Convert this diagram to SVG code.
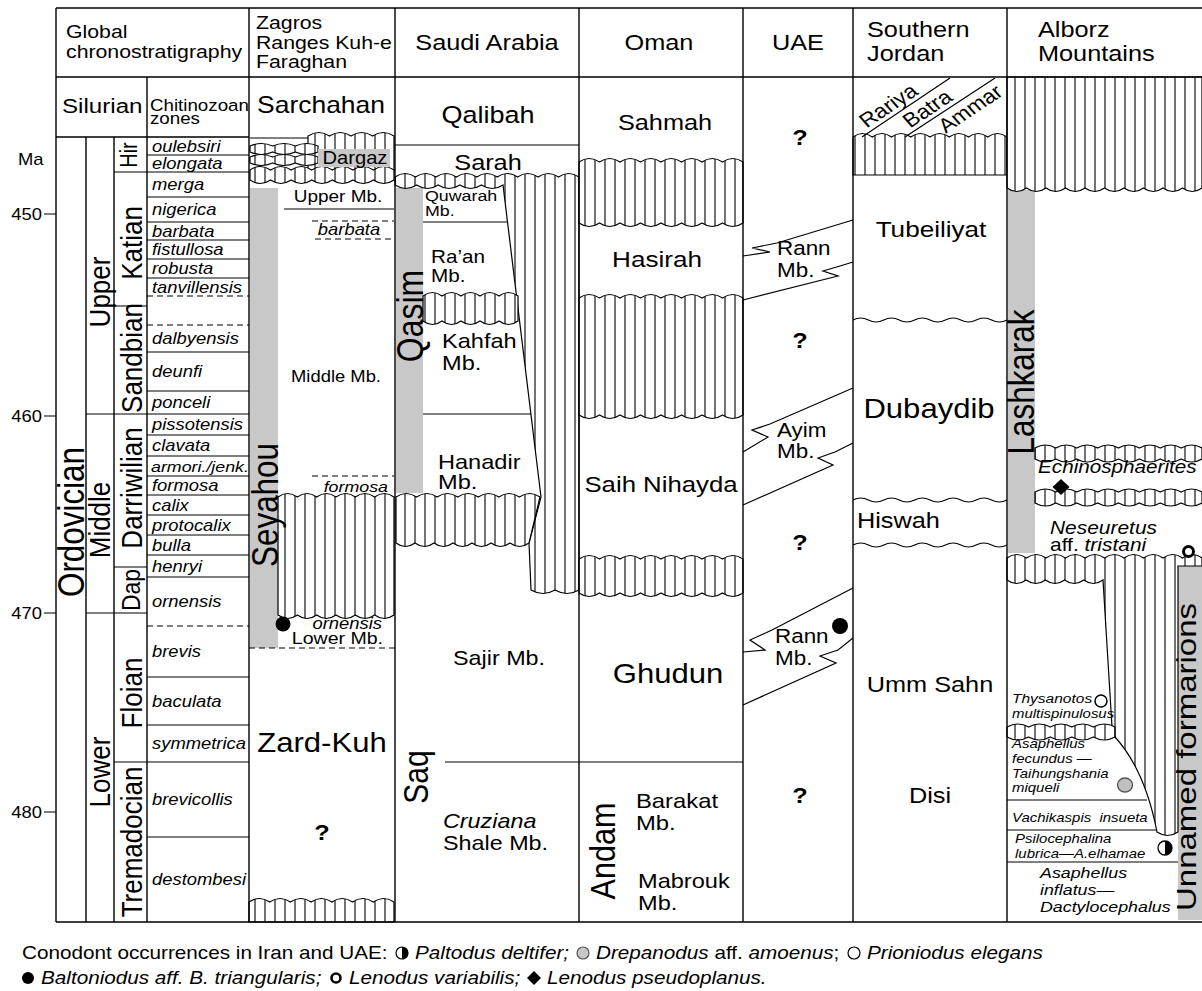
<svg xmlns="http://www.w3.org/2000/svg" width="1202" height="991" viewBox="0 0 1202 991">
<defs>
<pattern id="hatch" patternUnits="userSpaceOnUse" width="10" height="10"><rect width="10" height="10" fill="#fff"/><path d="M5,0V10" stroke="#000" stroke-width="1.1"/></pattern>
</defs>
<style>
.f{fill:none;stroke:#000;stroke-width:1.4}
.l{stroke:#000;stroke-width:1.2;fill:none}
.d{stroke:#000;stroke-width:1.2;stroke-dasharray:6 4;fill:none}
.h{fill:url(#hatch);stroke:#000;stroke-width:1.2}
.g{fill:#c8c8c8}
text{font-family:"Liberation Sans",Arial,Helvetica,sans-serif;fill:#000}
.i{font-style:italic}
.m{text-anchor:middle}
.e{text-anchor:end}
.b{font-weight:bold}
</style>
<rect width="1202" height="991" fill="#fff"/>

<g id="gray-bars">
<rect class="g" x="250" y="188" width="28" height="460"/>
<rect class="g" x="396" y="188" width="27" height="305"/>
<rect class="g" x="1008" y="190" width="27" height="363"/>
<rect class="g" x="1178" y="565" width="24" height="355"/>
</g>

<g id="hatched">
<path class="h" d="M308,136 q10.75,-7 21.5,0 q10.75,-7 21.5,0 q10.75,-7 21.5,0 q10.75,-7 21.5,0 L394,172 L308,172 Z"/>
<path class="h" d="M250,146 q11.33,-5 22.67,0 q11.33,-5 22.67,0 q11.33,-5 22.67,0 L318,152 q-11.33,5 -22.67,0 q-11.33,5 -22.67,0 q-11.33,5 -22.67,0 Z"/>
<path class="h" d="M250,157 q11.33,-5 22.67,0 q11.33,-5 22.67,0 q11.33,-5 22.67,0 L318,163 q-11.33,5 -22.67,0 q-11.33,5 -22.67,0 q-11.33,5 -22.67,0 Z"/>
<path class="h" d="M250,170 q10.29,-7 20.57,0 q10.29,-7 20.57,0 q10.29,-7 20.57,0 q10.29,-7 20.57,0 q10.29,-7 20.57,0 q10.29,-7 20.57,0 q10.29,-7 20.57,0 L394,180 q-10.29,7 -20.57,0 q-10.29,7 -20.57,0 q-10.29,7 -20.57,0 q-10.29,7 -20.57,0 q-10.29,7 -20.57,0 q-10.29,7 -20.57,0 q-10.29,7 -20.57,0 Z"/>
<path class="h" d="M278,497 q9.67,-7 19.33,0 q9.67,-7 19.33,0 q9.67,-7 19.33,0 q9.67,-7 19.33,0 q9.67,-7 19.33,0 q9.67,-7 19.33,0 L394,615 q-9.67,7 -19.33,0 q-9.67,7 -19.33,0 q-9.67,7 -19.33,0 q-9.67,7 -19.33,0 q-9.67,7 -19.33,0 q-9.67,7 -19.33,0 Z"/>
<path class="h" d="M249,902 q10.36,-7 20.71,0 q10.36,-7 20.71,0 q10.36,-7 20.71,0 q10.36,-7 20.71,0 q10.36,-7 20.71,0 q10.36,-7 20.71,0 q10.36,-7 20.71,0 L394,922 L249,922 Z"/>

<path class="h" d="M395,177 q10.22,-7 20.44,0 q10.22,-7 20.44,0 q10.22,-7 20.44,0 q10.22,-7 20.44,0 q10.22,-7 20.44,0 q10.22,-7 20.44,0 q10.22,-7 20.44,0 q10.22,-7 20.44,0 q10.22,-7 20.44,0 L579,590 q-12,7 -24,0 q-12,7 -24,0 L529,543 L541,497 L503,185 q-10.8,7 -21.6,0 q-10.8,7 -21.6,0 q-10.8,7 -21.6,0 q-10.8,7 -21.6,0 q-10.8,7 -21.6,0 Z"/>
<path class="h" d="M423,296 q9.5,-7 19,0 q9.5,-7 19,0 q9.5,-7 19,0 q9.5,-7 19,0 q9.5,-7 19,0 L518,321 q-9.5,7 -19,0 q-9.5,7 -19,0 q-9.5,7 -19,0 q-9.5,7 -19,0 q-9.5,7 -19,0 Z"/>
<path class="h" d="M396,497 q10.29,-7 20.57,0 q10.29,-7 20.57,0 q10.29,-7 20.57,0 q10.29,-7 20.57,0 q10.29,-7 20.57,0 q10.29,-7 20.57,0 q10.29,-7 20.57,0 L529,543 q-9.5,7 -19,0 q-9.5,7 -19,0 q-9.5,7 -19,0 q-9.5,7 -19,0 q-9.5,7 -19,0 q-9.5,7 -19,0 q-9.5,7 -19,0 Z"/>

<path class="h" d="M579,162 q10.25,-7 20.5,0 q10.25,-7 20.5,0 q10.25,-7 20.5,0 q10.25,-7 20.5,0 q10.25,-7 20.5,0 q10.25,-7 20.5,0 q10.25,-7 20.5,0 q10.25,-7 20.5,0 L743,223 q-10.25,7 -20.5,0 q-10.25,7 -20.5,0 q-10.25,7 -20.5,0 q-10.25,7 -20.5,0 q-10.25,7 -20.5,0 q-10.25,7 -20.5,0 q-10.25,7 -20.5,0 q-10.25,7 -20.5,0 Z"/>
<path class="h" d="M579,298 q10.25,-7 20.5,0 q10.25,-7 20.5,0 q10.25,-7 20.5,0 q10.25,-7 20.5,0 q10.25,-7 20.5,0 q10.25,-7 20.5,0 q10.25,-7 20.5,0 q10.25,-7 20.5,0 L743,415 q-10.25,7 -20.5,0 q-10.25,7 -20.5,0 q-10.25,7 -20.5,0 q-10.25,7 -20.5,0 q-10.25,7 -20.5,0 q-10.25,7 -20.5,0 q-10.25,7 -20.5,0 q-10.25,7 -20.5,0 Z"/>
<path class="h" d="M579,559 q10.25,-7 20.5,0 q10.25,-7 20.5,0 q10.25,-7 20.5,0 q10.25,-7 20.5,0 q10.25,-7 20.5,0 q10.25,-7 20.5,0 q10.25,-7 20.5,0 q10.25,-7 20.5,0 L743,593 q-10.25,7 -20.5,0 q-10.25,7 -20.5,0 q-10.25,7 -20.5,0 q-10.25,7 -20.5,0 q-10.25,7 -20.5,0 q-10.25,7 -20.5,0 q-10.25,7 -20.5,0 q-10.25,7 -20.5,0 Z"/>

<path class="h" d="M853,137 q9.63,-7 19.25,0 q9.63,-7 19.25,0 q9.63,-7 19.25,0 q9.63,-7 19.25,0 q9.63,-7 19.25,0 q9.63,-7 19.25,0 q9.63,-7 19.25,0 q9.63,-7 19.25,0 L1007,175 L853,175 Z"/>

<path class="h" d="M1007,77 L1202,77 L1202,188 q-9.75,7 -19.5,0 q-9.75,7 -19.5,0 q-9.75,7 -19.5,0 q-9.75,7 -19.5,0 q-9.75,7 -19.5,0 q-9.75,7 -19.5,0 q-9.75,7 -19.5,0 q-9.75,7 -19.5,0 q-9.75,7 -19.5,0 q-9.75,7 -19.5,0 Z"/>
<path class="h" d="M1035,448 q10.44,-6 20.88,0 q10.44,-6 20.88,0 q10.44,-6 20.88,0 q10.44,-6 20.88,0 q10.44,-6 20.88,0 q10.44,-6 20.88,0 q10.44,-6 20.88,0 q10.44,-6 20.88,0 L1202,459 q-10.44,6 -20.88,0 q-10.44,6 -20.88,0 q-10.44,6 -20.88,0 q-10.44,6 -20.88,0 q-10.44,6 -20.88,0 q-10.44,6 -20.88,0 q-10.44,6 -20.88,0 q-10.44,6 -20.88,0 Z"/>
<path class="h" d="M1035,492 q10.44,-6 20.88,0 q10.44,-6 20.88,0 q10.44,-6 20.88,0 q10.44,-6 20.88,0 q10.44,-6 20.88,0 q10.44,-6 20.88,0 q10.44,-6 20.88,0 q10.44,-6 20.88,0 L1202,503 q-10.44,6 -20.88,0 q-10.44,6 -20.88,0 q-10.44,6 -20.88,0 q-10.44,6 -20.88,0 q-10.44,6 -20.88,0 q-10.44,6 -20.88,0 q-10.44,6 -20.88,0 q-10.44,6 -20.88,0 Z"/>
<path class="h" d="M1007,558 q9.75,-7 19.5,0 q9.75,-7 19.5,0 q9.75,-7 19.5,0 q9.75,-7 19.5,0 q9.75,-7 19.5,0 q9.75,-7 19.5,0 q9.75,-7 19.5,0 q9.75,-7 19.5,0 q9.75,-7 19.5,0 q9.75,-7 19.5,0 L1202,566 L1178,566 L1178,832 q-10.5,7 -21,0 Q1145,770 1115,737 L1112,727 L1103,580 q-9.6,7 -19.2,0 q-9.6,7 -19.2,0 q-9.6,7 -19.2,0 q-9.6,7 -19.2,0 q-9.6,7 -19.2,0 Z"/>
<path class="h" d="M1007,727 q10.8,-6 21.6,0 q10.8,-6 21.6,0 q10.8,-6 21.6,0 q10.8,-6 21.6,0 q10.8,-6 21.6,0 L1115,737 q-10.8,6 -21.6,0 q-10.8,6 -21.6,0 q-10.8,6 -21.6,0 q-10.8,6 -21.6,0 q-10.8,6 -21.6,0 Z"/>
<rect class="g" x="318" y="149" width="72" height="18"/>
</g>

<g id="connectors">
<path class="f" d="M56,8H1202M56,77H1202M56,922H1202M56,137H249M56,8V922M86,137V922M114,137V922M147,77V922M249,8V922M395,8V922M579,8V922M743,8V922M853,8V922M1007,8V922"/>
<path class="l" d="M86,414H114M86,613H114M114,172H147M114,306H147M114,414H147M114,567H147M114,613H147M114,762H147"/>
<path class="l" d="M147,155H249M147,172H249M147,197H249M147,222H249M147,240H249M147,259H249M147,278H249M147,352H249M147,391H249M147,414H249M147,435H249M147,456H249M147,476H249M147,495H249M147,515H249M147,535H249M147,555H249M147,577H249M147,677H249M147,725H249M147,762H249M147,837H249"/>
<path class="d" d="M147,296H249M147,325H249M147,626H249"/>
<path class="l" d="M44,214H56M44,416H56M44,613H56M44,812H56"/>
<path class="l" d="M250,138H308M284,209H394"/>
<path class="d" d="M312,221H394M315,239H394M312,476H394M249,648H395"/>
<path class="l" d="M395,145H579M423,222H507M423,414H531M445,762H579M579,762H743"/>
<path class="l" d="M853,220L777,243L752,248L770,252L743,256M853,262L840,266L823,271L838,276L743,300M853,388L770,424L752,430L768,437L743,452M853,443L835,452L818,458L833,465L743,505M853,588L772,630L750,640L765,650L743,652M853,638L838,650L820,656L836,663L743,705"/>
<path class="l" d="M862,137L950,78M905,137L995,78"/>
<path class="l" d="M853,320 q7.7,-4 15.4,0 t15.4,0 t15.4,0 t15.4,0 t15.4,0 t15.4,0 t15.4,0 t15.4,0 t15.4,0 t15.4,0M853,500 q7.7,-4 15.4,0 t15.4,0 t15.4,0 t15.4,0 t15.4,0 t15.4,0 t15.4,0 t15.4,0 t15.4,0 t15.4,0M853,545 q7.7,-4 15.4,0 t15.4,0 t15.4,0 t15.4,0 t15.4,0 t15.4,0 t15.4,0 t15.4,0 t15.4,0 t15.4,0"/>
<path class="l" d="M1007,800H1147M1007,830H1157M1007,862H1178"/>
</g>

<g id="chronostratigraphy">
<text font-size="18.5" transform="matrix(1.15 0 0 1 66 38)">Global</text>
<text font-size="18.5" transform="matrix(1.15 0 0 1 66 58)">chronostratigraphy</text>
<text font-size="21" transform="matrix(1.15 0 0 1 62 113)">Silurian</text>
<text font-size="16.3" transform="matrix(1.15 0 0 1 150 111)">Chitinozoan</text>
<text font-size="16.3" transform="matrix(1.15 0 0 1 150 124)">zones</text>
<text font-size="16" transform="matrix(1.15 0 0 1 18 165)">Ma</text>
<text class="e" font-size="16" transform="matrix(1.15 0 0 1 42 220)">450</text>
<text class="e" font-size="16" transform="matrix(1.15 0 0 1 42 422)">460</text>
<text class="e" font-size="16" transform="matrix(1.15 0 0 1 42 619)">470</text>
<text class="e" font-size="16" transform="matrix(1.15 0 0 1 42 818)">480</text>
<text class="m" font-size="31.4" transform="matrix(0 -1 1.15 0 84 522)">Ordovician</text>
<text class="m" font-size="26" transform="matrix(0 -1 1.15 0 110 292)">Upper</text>
<text class="m" font-size="26" transform="matrix(0 -1 1.15 0 110 520)">Middle</text>
<text class="m" font-size="26" transform="matrix(0 -1 1.15 0 110 772)">Lower</text>
<text class="m" font-size="20" transform="matrix(0 -1 1.15 0 137 155)">Hir</text>
<text class="m" font-size="26" transform="matrix(0 -1 1.15 0 142 243)">Katian</text>
<text class="m" font-size="26" transform="matrix(0 -1 1.15 0 142 358)">Sandbian</text>
<text class="m" font-size="26" transform="matrix(0 -1 1.15 0 142 488)">Darriwilian</text>
<text class="m" font-size="23" transform="matrix(0 -1 1.15 0 140 590)">Dap</text>
<text class="m" font-size="26" transform="matrix(0 -1 1.15 0 142 693)">Floian</text>
<text class="m" font-size="26" transform="matrix(0 -1 1.15 0 142 842)">Tremadocian</text>
</g>

<g id="chitinozoan-zones" class="i" font-size="16">
<text class="i" transform="matrix(1.15 0 0 1 152 151.5)">oulebsiri</text>
<text class="i" transform="matrix(1.15 0 0 1 152 169)">elongata</text>
<text class="i" transform="matrix(1.15 0 0 1 152 190)">merga</text>
<text class="i" transform="matrix(1.15 0 0 1 152 215)">nigerica</text>
<text class="i" transform="matrix(1.15 0 0 1 152 236.5)">barbata</text>
<text class="i" transform="matrix(1.15 0 0 1 152 255)">fistullosa</text>
<text class="i" transform="matrix(1.15 0 0 1 152 274)">robusta</text>
<text class="i" transform="matrix(1.15 0 0 1 152 292.5)">tanvillensis</text>
<text class="i" transform="matrix(1.15 0 0 1 152 344)">dalbyensis</text>
<text class="i" transform="matrix(1.15 0 0 1 152 377)">deunfi</text>
<text class="i" transform="matrix(1.15 0 0 1 152 407.5)">ponceli</text>
<text class="i" transform="matrix(1.15 0 0 1 152 429.5)">pissotensis</text>
<text class="i" transform="matrix(1.15 0 0 1 152 451)">clavata</text>
<text class="i" font-size="15.5" transform="matrix(1.15 0 0 1 151 471.5)">armori./jenk.</text>
<text class="i" transform="matrix(1.15 0 0 1 152 491)">formosa</text>
<text class="i" transform="matrix(1.15 0 0 1 152 510.5)">calix</text>
<text class="i" transform="matrix(1.15 0 0 1 152 530.5)">protocalix</text>
<text class="i" transform="matrix(1.15 0 0 1 152 550.5)">bulla</text>
<text class="i" transform="matrix(1.15 0 0 1 152 571.5)">henryi</text>
<text class="i" transform="matrix(1.15 0 0 1 152 607)">ornensis</text>
<text class="i" transform="matrix(1.15 0 0 1 152 657)">brevis</text>
<text class="i" transform="matrix(1.15 0 0 1 152 706.5)">baculata</text>
<text class="i" transform="matrix(1.15 0 0 1 152 749)">symmetrica</text>
<text class="i" transform="matrix(1.15 0 0 1 152 805)">brevicollis</text>
<text class="i" transform="matrix(1.15 0 0 1 152 885)">destombesi</text>
</g>

<g id="zagros">
<text font-size="18.5" transform="matrix(1.15 0 0 1 256 29)">Zagros</text>
<text font-size="18.5" transform="matrix(1.15 0 0 1 256 49)">Ranges Kuh-e</text>
<text font-size="18.5" transform="matrix(1.15 0 0 1 256 68)">Faraghan</text>
<text class="m" font-size="23" transform="matrix(1.15 0 0 1 321 113)">Sarchahan</text>
<text class="m" font-size="17.5" transform="matrix(1.15 0 0 1 355 164)">Dargaz</text>
<text class="m" font-size="16.5" transform="matrix(1.15 0 0 1 338 202)">Upper Mb.</text>
<text class="m i" font-size="16" transform="matrix(1.15 0 0 1 349 235)">barbata</text>
<text class="m" font-size="16" transform="matrix(1.15 0 0 1 336 382)">Middle Mb.</text>
<text class="e i" font-size="15.5" transform="matrix(1.15 0 0 1 388 492)">formosa</text>
<text class="e i" font-size="16" transform="matrix(1.15 0 0 1 382 629)">ornensis</text>
<text class="e" font-size="17" transform="matrix(1.15 0 0 1 383 644)">Lower Mb.</text>
<text class="m" font-size="27" transform="matrix(1.15 0 0 1 322 752)">Zard-Kuh</text>
<text class="m b" font-size="22" transform="matrix(1.15 0 0 1 322 840)">?</text>
<text class="m" font-size="31.4" transform="matrix(0 -1 1.15 0 277.5 505)">Seyahou</text>
<circle cx="283" cy="624" r="7.5" fill="#000"/>
</g>

<g id="saudi-arabia">
<text class="m" font-size="22" transform="matrix(1.15 0 0 1 487 50)">Saudi Arabia</text>
<text class="m" font-size="23.5" transform="matrix(1.15 0 0 1 488 123)">Qalibah</text>
<text class="m" font-size="22" transform="matrix(1.15 0 0 1 488 170)">Sarah</text>
<text font-size="15.5" transform="matrix(1.15 0 0 1 425 201)">Quwarah</text>
<text font-size="15.5" transform="matrix(1.15 0 0 1 425 216)">Mb.</text>
<text font-size="18" transform="matrix(1.15 0 0 1 431 263)">Ra’an</text>
<text font-size="18" transform="matrix(1.15 0 0 1 431 282)">Mb.</text>
<text font-size="20.5" transform="matrix(1.15 0 0 1 442 348)">Kahfah</text>
<text font-size="20.5" transform="matrix(1.15 0 0 1 442 370)">Mb.</text>
<text font-size="20.5" transform="matrix(1.15 0 0 1 438 469)">Hanadir</text>
<text font-size="20.5" transform="matrix(1.15 0 0 1 438 489)">Mb.</text>
<text class="m" font-size="32" transform="matrix(0 -1 1.15 0 423 316)">Qasim</text>
<text font-size="20.3" transform="matrix(1.15 0 0 1 453 665)">Sajir Mb.</text>
<text class="m" font-size="30" transform="matrix(0 -1 1.15 0 428 777)">Saq</text>
<text class="i" font-size="20.3" transform="matrix(1.15 0 0 1 443 828)">Cruziana</text>
<text font-size="20.3" transform="matrix(1.15 0 0 1 443 850)">Shale Mb.</text>
</g>

<g id="oman">
<text class="m" font-size="22" transform="matrix(1.15 0 0 1 659 50)">Oman</text>
<text class="m" font-size="22" transform="matrix(1.15 0 0 1 665 130)">Sahmah</text>
<text class="m" font-size="22.7" transform="matrix(1.15 0 0 1 657 267)">Hasirah</text>
<text class="m" font-size="22.4" transform="matrix(1.15 0 0 1 661 492)">Saih Nihayda</text>
<text class="m" font-size="27" transform="matrix(1.15 0 0 1 668 683)">Ghudun</text>
<text class="m" font-size="30.6" transform="matrix(0 -1 1.15 0 615 851)">Andam</text>
<text font-size="20.7" transform="matrix(1.15 0 0 1 636 808)">Barakat</text>
<text font-size="20.7" transform="matrix(1.15 0 0 1 636 830)">Mb.</text>
<text font-size="20.5" transform="matrix(1.15 0 0 1 638 888)">Mabrouk</text>
<text font-size="20.5" transform="matrix(1.15 0 0 1 638 910)">Mb.</text>
</g>

<g id="uae">
<text class="m" font-size="22" transform="matrix(1.15 0 0 1 798 50)">UAE</text>
<text class="m b" font-size="22" transform="matrix(1.15 0 0 1 800 145)">?</text>
<text class="m b" font-size="22" transform="matrix(1.15 0 0 1 800 348)">?</text>
<text class="m b" font-size="22" transform="matrix(1.15 0 0 1 800 550)">?</text>
<text class="m b" font-size="22" transform="matrix(1.15 0 0 1 800 803)">?</text>
<text font-size="19.5" transform="matrix(1.15 0 0 1 777 255)">Rann</text>
<text font-size="19.5" transform="matrix(1.15 0 0 1 777 277)">Mb.</text>
<text font-size="19.5" transform="matrix(1.15 0 0 1 777 437)">Ayim</text>
<text font-size="19.5" transform="matrix(1.15 0 0 1 777 458)">Mb.</text>
<text font-size="19.5" transform="matrix(1.15 0 0 1 775 643)">Rann</text>
<text font-size="19.5" transform="matrix(1.15 0 0 1 775 665)">Mb.</text>
<circle cx="840" cy="626" r="8" fill="#000"/>
</g>

<g id="southern-jordan">
<text font-size="22" transform="matrix(1.15 0 0 1 867 37)">Southern</text>
<text font-size="22" transform="matrix(1.15 0 0 1 867 61)">Jordan</text>
<text class="m" font-size="20" transform="matrix(0.911 -0.61 0.702 0.792 893 111)">Rariya</text>
<text class="m" font-size="20" transform="matrix(0.911 -0.61 0.702 0.792 932 114)">Batra</text>
<text class="m" font-size="20" transform="matrix(0.911 -0.61 0.702 0.792 975 114)">Ammar</text>
<text class="m" font-size="22.7" transform="matrix(1.15 0 0 1 931 237)">Tubeiliyat</text>
<text class="m" font-size="27" transform="matrix(1.15 0 0 1 929 418)">Dubaydib</text>
<text font-size="22" transform="matrix(1.15 0 0 1 857 528)">Hiswah</text>
<text class="m" font-size="22" transform="matrix(1.15 0 0 1 930 692)">Umm Sahn</text>
<text class="m" font-size="22" transform="matrix(1.15 0 0 1 930 803)">Disi</text>
</g>

<g id="alborz">
<text font-size="22" transform="matrix(1.15 0 0 1 1038 37)">Alborz</text>
<text font-size="22" transform="matrix(1.15 0 0 1 1038 61)">Mountains</text>
<text class="m" font-size="31.4" transform="matrix(0 -1 1.15 0 1034 382)">Lashkarak</text>
<text class="i" font-size="18" transform="matrix(1.15 0 0 1 1038 473)">Echinosphaerites</text>
<text class="i" font-size="18.2" transform="matrix(1.15 0 0 1 1050 534)">Neseuretus</text>
<text font-size="18.2" transform="matrix(1.15 0 0 1 1050 551)">aff. <tspan class="i">tristani</tspan></text>
<text class="i" font-size="13.5" transform="matrix(1.15 0 0 1 1012 703)">Thysanotos</text>
<text class="i" font-size="13" transform="matrix(1.15 0 0 1 1012 718)">multispinulosus</text>
<text class="i" font-size="13" transform="matrix(1.15 0 0 1 1012 748)">Asaphellus</text>
<text class="i" font-size="13" transform="matrix(1.15 0 0 1 1012 763)">fecundus —</text>
<text class="i" font-size="13" transform="matrix(1.15 0 0 1 1012 778)">Taihungshania</text>
<text class="i" font-size="13" transform="matrix(1.15 0 0 1 1012 792)">miqueli</text>
<text class="i" font-size="13" transform="matrix(1.15 0 0 1 1012 822)">Vachikaspis&#160; insueta</text>
<text class="i" font-size="13" transform="matrix(1.15 0 0 1 1015 843)">Psilocephalina</text>
<text class="i" font-size="13" transform="matrix(1.15 0 0 1 1015 858)">lubrica—A.elhamae</text>
<text class="i" font-size="15.5" transform="matrix(1.15 0 0 1 1040 878)">Asaphellus</text>
<text class="i" font-size="15.5" transform="matrix(1.15 0 0 1 1040 895)">inflatus—</text>
<text class="i" font-size="15.5" transform="matrix(1.15 0 0 1 1040 912)">Dactylocephalus</text>
<text class="m" font-size="33" transform="matrix(0 -1 0.85 0 1196 757)">Unnamed formarions</text>
<path d="M1061,479 L1069.5,487 L1061,495 L1052.5,487 Z" fill="#000"/>
<circle cx="1188.5" cy="551.5" r="5" fill="#fff" stroke="#000" stroke-width="3"/>
<circle cx="1101" cy="701" r="6" fill="#fff" stroke="#000" stroke-width="1.5"/>
<ellipse cx="1125" cy="785" rx="7.5" ry="7" fill="#c0c0c0" stroke="#555" stroke-width="1.3"/>
<circle cx="1165" cy="848" r="7" fill="#fff" stroke="#000" stroke-width="1.3"/>
<path d="M1165,841 A7,7 0 0 1 1165,855 Z" fill="#000"/>
</g>

<g id="legend">
<text font-size="18" transform="matrix(1.15 0 0 1 22 959)">Conodont occurrences in Iran and UAE:</text>
<circle cx="402" cy="953" r="6" fill="#fff" stroke="#000" stroke-width="1.2"/>
<path d="M402,947 A6,6 0 0 1 402,959 Z" fill="#000"/>
<text class="i" font-size="18" transform="matrix(1.15 0 0 1 415 959)">Paltodus deltifer;</text>
<circle cx="583" cy="953" r="6" fill="#c8c8c8" stroke="#555" stroke-width="1.2"/>
<text font-size="18" transform="matrix(1.15 0 0 1 596 959)"><tspan class="i">Drepanodus</tspan> aff. <tspan class="i">amoenus</tspan>;</text>
<circle cx="854" cy="953" r="6" fill="#fff" stroke="#000" stroke-width="1.2"/>
<text class="i" font-size="18" transform="matrix(1.15 0 0 1 867 959)">Prioniodus elegans</text>
<circle cx="28" cy="978" r="6" fill="#000"/>
<text class="i" font-size="18" transform="matrix(1.15 0 0 1 41 984)">Baltoniodus aff. B. triangularis;</text>
<circle cx="336" cy="978" r="4.5" fill="none" stroke="#000" stroke-width="2.6"/>
<text class="i" font-size="18" transform="matrix(1.15 0 0 1 349 984)">Lenodus variabilis;</text>
<path d="M534,971 L541,978 L534,985 L527,978 Z" fill="#000"/>
<text class="i" font-size="18" transform="matrix(1.15 0 0 1 547 984)">Lenodus pseudoplanus.</text>
</g>
</svg>
